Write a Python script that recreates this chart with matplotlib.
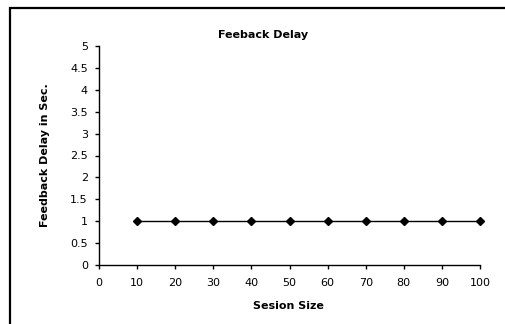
import matplotlib
matplotlib.use("Agg")
import matplotlib.pyplot as plt
from matplotlib.patches import Rectangle

session_size = [10, 20, 30, 40, 50, 60, 70, 80, 90, 100]
feedback_delay = [1, 1, 1, 1, 1, 1, 1, 1, 1, 1]
x_ticks = [0, 10, 20, 30, 40, 50, 60, 70, 80, 90, 100]
y_ticks = [0, 0.5, 1, 1.5, 2, 2.5, 3, 3.5, 4, 4.5, 5]

plt.rcParams['font.family'] = ['DejaVu Sans']

fig = plt.figure(figsize=(5.05, 3.24), dpi=100)
ax = fig.add_axes([99 / 505, 1 - 265 / 324, 381 / 505, 219 / 324])

ax.plot(session_size, feedback_delay, color='black', linewidth=1,
        marker='D', markersize=4.2, markerfacecolor='black', clip_on=False)

ax.set_xlim(0, 100)
ax.set_ylim(0, 5)
ax.set_xticks(x_ticks)
ax.set_yticks(y_ticks)
ax.set_yticklabels([f"{v:g}" for v in y_ticks])
ax.tick_params(direction='out', length=3, width=1, labelsize=8, pad=5)
ax.tick_params(axis='x', pad=6)
ax.spines['top'].set_visible(False)
ax.spines['right'].set_visible(False)
for s in ('left', 'bottom'):
    ax.spines[s].set_linewidth(1)

fig.text(263 / 505, 1 - 35 / 324, "Feeback Delay", fontsize=8, fontweight='bold',
         ha='center', va='center')
ax.set_xlabel("Sesion Size", fontsize=8, fontweight='bold')
ax.xaxis.set_label_coords((288 - 99) / 381, (265 - 306) / 219)
ax.xaxis.label.set_va('center')
ax.set_ylabel("Feedback Delay in Sec.", fontsize=8, fontweight='bold')
ax.yaxis.set_label_coords((45 - 99) / 381, 0.5)
ax.yaxis.label.set_va('center')

# outer chart border (left and top visible)
fig.patches.append(Rectangle((10 / 505, -0.5), 2.0, 1.5 - 8 / 324,
                             transform=fig.transFigure, fill=False,
                             edgecolor='black', linewidth=1.6))

fig.savefig("out.png", dpi=100)
